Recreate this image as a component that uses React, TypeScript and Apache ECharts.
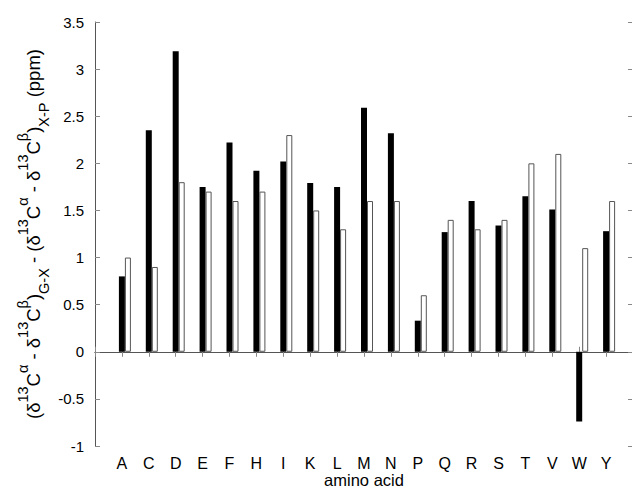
import React, { useEffect, useRef } from "react";
import * as echarts from "echarts";

const categories = ["A", "C", "D", "E", "F", "H", "I", "K", "L", "M", "N", "P", "Q", "R", "S", "T", "V", "W", "Y"];
const blackValues = [0.8, 2.35, 3.19, 1.75, 2.22, 1.92, 2.02, 1.79, 1.75, 2.59, 2.32, 0.33, 1.27, 1.6, 1.34, 1.65, 1.51, -0.74, 1.28];
const whiteValues = [1.0, 0.9, 1.8, 1.7, 1.6, 1.7, 2.3, 1.5, 1.3, 1.6, 1.6, 0.6, 1.4, 1.3, 1.4, 2.0, 2.1, 1.1, 1.6];
const yMin = -1;
const yMax = 3.5;
const yInterval = 0.5;

const FONT = "'Liberation Sans', Arial, sans-serif";

export default function App() {
  const ref = useRef<HTMLDivElement>(null);
  useEffect(() => {
    if (!ref.current) return;
    const chart = echarts.init(ref.current, null, { renderer: "svg" });
    const cats = ["", ...categories, ""];
    const pad = (arr: number[]) => [null, ...arr, null];
    const axisLine = { show: true, lineStyle: { color: "#555", width: 1 } };
    const tick = { show: true, inside: true, length: 5, lineStyle: { color: "#888", width: 1 } };
    const yName =
      "{n|(δ}{sup|13}{n|C}{sup|α}{n| - δ}{sup|13}{n|C}{sup|β}{n|)}{sub|G-X}" +
      "{n| - (δ}{sup|13}{n|C}{sup|α}{n| - δ}{sup|13}{n|C}{sup|β}{n|)}{sub|X-P}{n| (ppm)}";
    chart.setOption({
      animation: false,
      backgroundColor: "#fff",
      textStyle: { fontFamily: FONT },
      grid: { left: 95, right: -1, top: 22, bottom: 44, containLabel: false, outerBoundsMode: "none" },
      xAxis: [
        {
          type: "category",
          data: cats,
          boundaryGap: false,
          position: "bottom",
          axisLine,
          axisTick: { ...tick, interval: 0 },
          axisLabel: { show: true, interval: 0, color: "#000", fontSize: 16, lineHeight: 16, margin: 9, fontFamily: FONT },
          splitLine: { show: false },
          name: "amino acid",
          nameLocation: "middle",
          nameGap: 26,
          nameMoveOverlap: false,
          nameTextStyle: { color: "#000", fontSize: 16.5, lineHeight: 16, fontFamily: FONT },
        },
        {
          type: "category",
          data: cats,
          boundaryGap: false,
          position: "top",
          axisLine,
          axisTick: { ...tick, interval: 0 },
          axisLabel: { show: false },
          splitLine: { show: false },
        },
      ],
      yAxis: [
        {
          type: "value",
          min: yMin,
          max: yMax,
          interval: yInterval,
          position: "left",
          axisLine,
          axisTick: tick,
          axisLabel: { color: "#000", fontSize: 15, margin: 11, fontFamily: FONT },
          splitLine: { show: false },
          name: yName,
          nameLocation: "middle",
          nameRotate: 90,
          nameGap: 44,
          nameMoveOverlap: false,
          nameTextStyle: {
            color: "#000",
            rich: {
              n: { fontSize: 18.5, lineHeight: 36, fontFamily: FONT, color: "#000" },
              sup: { fontSize: 14.5, lineHeight: 12, verticalAlign: "top", fontFamily: FONT, color: "#000" },
              sub: { fontSize: 14.5, lineHeight: 6, verticalAlign: "bottom", fontFamily: FONT, color: "#000" },
            },
          },
        },
        {
          type: "value",
          min: yMin,
          max: yMax,
          interval: yInterval,
          position: "right",
          axisLine,
          axisTick: tick,
          axisLabel: { show: false },
          splitLine: { show: false },
        },
      ],
      series: [
        {
          name: "spacer",
          type: "bar",
          data: cats.map(() => null),
          barWidth: 6,
          barGap: "0%",
          silent: true,
        },
        {
          name: "G-X",
          type: "bar",
          data: pad(blackValues),
          barWidth: 6,
          barGap: "0%",
          itemStyle: { color: "#000" },
        },
        {
          name: "X-P",
          type: "bar",
          data: pad(whiteValues),
          barWidth: 6,
          barGap: "0%",
          itemStyle: { color: "#fff", borderColor: "#555", borderWidth: 1 },
        },
      ],
    });
    return () => chart.dispose();
  }, []);
  return (
    <div style={{ position: "fixed", left: 0, top: 0, width: 632, height: 490, overflow: "hidden", background: "#fff" }}>
      <div ref={ref} style={{ width: 632, height: 490 }} />
    </div>
  );
}
